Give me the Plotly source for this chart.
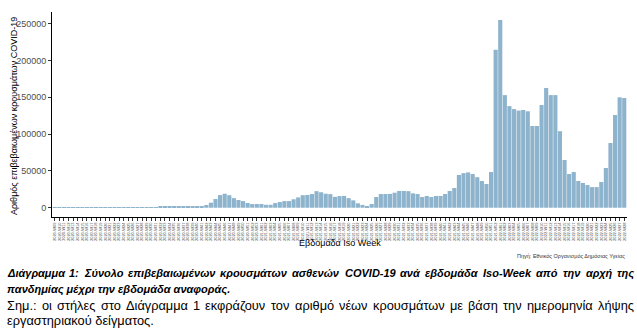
import glob
import plotly.graph_objects as go

# ISO weeks from the start of the pandemic up to the reference week
week_labels = (
    [f"2020-W{w:02d}" for w in range(9, 54)]
    + [f"2021-W{w:02d}" for w in range(1, 53)]
    + [f"2022-W{w:02d}" for w in range(1, 29)]
)

# Confirmed COVID-19 cases per ISO week (by sampling date)
cases_2020 = [
    10, 90, 250, 450, 650, 500, 450, 500, 180, 120,
    100, 80, 70, 90, 120, 110, 150, 160, 180, 250,
    300, 450, 800, 1300, 1600, 1500, 1600, 1700, 1500, 1900,
    2300, 2000, 2100, 3700, 6800, 11800, 17200, 19000, 17000, 13000,
    10500, 9000, 6400, 5000, 5000,
]
cases_2021 = [
    5000, 4000, 4000, 6300, 7700, 9000, 9000, 11500, 14000, 17000,
    17300, 18600, 22500, 21000, 19000, 18500, 14800, 15800, 16000, 13000,
    10000, 6000, 3800, 2200, 5000, 14500, 18600, 18600, 18800, 20400,
    22700, 22700, 22500, 19500, 18600, 14500, 16000, 14500, 16000, 16000,
    18600, 22700, 26800, 44500, 47000, 48000, 45800, 41500, 36300, 32200,
    48500, 214700,
]
cases_2022 = [
    255000, 153000, 138000, 134000, 132000, 132800, 131000, 111000, 111000, 139500,
    162700, 153000, 153000, 104000, 64800, 45800, 48500, 36300, 33600, 30800,
    28000, 28000, 35000, 54000, 88000, 126000, 150000, 149000,
]
cases = cases_2020 + cases_2021 + cases_2022

y_ticks = [0, 50000, 100000, 150000, 200000, 250000]

y_title = "Αριθμός επιβεβαιωμένων κρουσμάτων COVID-19"
x_title = "Εβδομάδα Iso Week"
source_note = "Πηγή: Εθνικός Οργανισμός Δημόσιας Υγείας"
caption_bold = [
    "Διάγραμμα 1: Σύνολο επιβεβαιωμένων κρουσμάτων ασθενών COVID-19 ανά εβδομάδα Iso-Week από την αρχή της",
    "πανδημίας μέχρι την εβδομάδα αναφοράς.",
]
caption_note = [
    "Σημ.: οι στήλες στο Διάγραμμα 1 εκφράζουν τον αριθμό νέων κρουσμάτων με βάση την ημερομηνία λήψης",
    "εργαστηριακού δείγματος.",
]

W, H = 637, 332
L, R, T, B = 52, 10, 12, 115
PW, PH = W - L - R, H - T - B
FONT = "Liberation Sans, Arial, sans-serif"
BAR = "#8db3cd"
GREY = "#4d4d4d"


def px(x, y):
    """Convert page pixels to paper coordinates."""
    return (x - L) / PW, (H - B - y) / PH


def text_width(s, size, style):
    files = {
        "regular": "LiberationSans-Regular.ttf",
        "bolditalic": "LiberationSans-BoldItalic.ttf",
    }
    try:
        from PIL import ImageFont
        path = glob.glob("/usr/share/fonts/**/" + files[style], recursive=True)[0]
        return ImageFont.truetype(path, size).getlength(s)
    except Exception:
        return len(s) * size * (0.58 if style == "bolditalic" else 0.52)


annotations = []


def add_text(x, y, text, size, color="black", xanchor="left", angle=0, yanchor="middle"):
    xp, yp = px(x, y)
    annotations.append(dict(
        x=xp, y=yp, xref="paper", yref="paper", text=text, showarrow=False,
        xanchor=xanchor, yanchor=yanchor, textangle=angle,
        font=dict(family=FONT, size=size, color=color),
    ))


def justified(line, y, size, style, left=5, right=632):
    words = line.split(" ")
    widths = [text_width(w, size, style) for w in words]
    gap = (right - left - sum(widths)) / (len(words) - 1)
    x = left
    for w, wd in zip(words, widths):
        t = f"<b><i>{w}</i></b>" if style == "bolditalic" else w
        add_text(x, y, t, size)
        x += wd + gap


fig = go.Figure(go.Bar(
    x=week_labels, y=cases, marker=dict(color=BAR, line=dict(width=0)),
))

# axis titles and source
add_text(14, 116, y_title, 9, angle=-90, xanchor="center")
add_text(L + PW / 2, 243, x_title, 9, xanchor="center")
add_text(627, 256, source_note, 5.5, color="#333333", xanchor="right")

# caption below the chart
justified(caption_bold[0], 273, 11, "bolditalic")
add_text(5, 289, f"<b><i>{caption_bold[1]}</i></b>", 11)
justified(caption_note[0], 305, 12.8, "regular")
add_text(5, 320, caption_note[1], 12.8)

fig.update_layout(
    width=W, height=H,
    margin=dict(l=L, r=R, t=T, b=B),
    plot_bgcolor="white", paper_bgcolor="white",
    bargap=0.1, showlegend=False,
    font=dict(family=FONT),
    annotations=annotations,
    xaxis=dict(
        type="category", range=[-0.6, len(week_labels) - 0.4],
        tickmode="array", tickvals=week_labels, ticktext=week_labels,
        tickangle=-90, tickfont=dict(size=4, color=GREY),
        showline=True, linecolor="black", linewidth=1,
        ticks="outside", ticklen=3, tickcolor="#333333",
        showgrid=False, zeroline=False, automargin=False,
    ),
    yaxis=dict(
        range=[-12600, 265900],
        tickmode="array", tickvals=y_ticks, ticktext=[str(v) for v in y_ticks],
        tickfont=dict(size=9, color=GREY),
        showline=True, linecolor="black", linewidth=1,
        ticks="outside", ticklen=3, tickcolor="#333333",
        showgrid=False, zeroline=False, automargin=False,
    ),
)

fig.write_html("out.html")
